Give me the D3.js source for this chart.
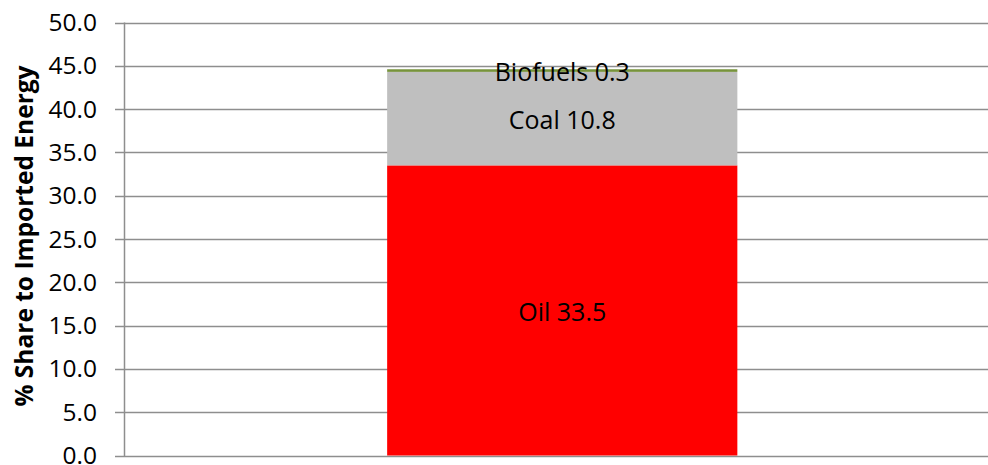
<!DOCTYPE html>
<html><head><meta charset="utf-8">
<script src="https://cdn.jsdelivr.net/npm/d3@7"></script>
<style>html,body{margin:0;padding:0;background:#fff;overflow:hidden}</style>
</head><body>
<svg id="c" width="988" height="465"></svg>
<script>
const categories = ["Imported Energy"];
const seriesNames = ["Oil", "Coal", "Biofuels"];
const oilValues = [33.5];
const coalValues = [10.8];
const biofuelValues = [0.3];
const seriesColors = ["#FF0000", "#BFBFBF", "#77933C"];
const yTicks = [0, 5, 10, 15, 20, 25, 30, 35, 40, 45, 50];
const yTitle = "% Share to Imported Energy";

(function () {
const svg = d3.select("#c");
const mLeft = 124.5, mRight = 1000, mTop = 22.5, mBottom = 455.5;
const font = "'Open Sans', 'Noto Sans', sans-serif";

const x = d3.scaleBand().domain(categories).range([mLeft, mRight]).paddingInner(0).paddingOuter(0.75);
const y = d3.scaleLinear().domain([0, 50]).range([mBottom, mTop]);

const rows = categories.map((c, i) => ({cat: c, Oil: oilValues[i], Coal: coalValues[i], Biofuels: biofuelValues[i]}));
const stack = d3.stack().keys(seriesNames)(rows);

// gridlines
svg.append("g").selectAll("line").data(yTicks).join("line")
  .attr("x1", 115).attr("x2", 988)
  .attr("y1", d => Math.round(y(d)) + 0.5).attr("y2", d => Math.round(y(d)) + 0.5)
  .attr("stroke", "#8e8e8e").attr("stroke-width", 1.5);

// bars
const layers = svg.append("g").selectAll("g").data(stack).join("g")
  .attr("fill", (d, i) => seriesColors[i]);
layers.selectAll("rect").data(d => d).join("rect")
  .attr("x", d => x(d.data.cat))
  .attr("width", x.bandwidth())
  .attr("y", d => y(d[1]))
  .attr("height", d => y(d[0]) - y(d[1]));

// y axis line
svg.append("line").attr("x1", mLeft).attr("x2", mLeft).attr("y1", mTop).attr("y2", mBottom + 1)
  .attr("stroke", "#8e8e8e").attr("stroke-width", 1.5);

// tick labels
svg.append("g").selectAll("text").data(yTicks).join("text")
  .attr("x", 97).attr("y", d => y(d))
  .attr("dy", "0.35em").attr("text-anchor", "end")
  .attr("font-family", font).attr("font-size", 24.5).attr("fill", "#000")
  .text(d => d.toFixed(1));

// data labels
stack.forEach((layer, i) => {
  layer.forEach(d => {
    svg.append("text")
      .attr("x", x(d.data.cat) + x.bandwidth() / 2)
      .attr("y", (y(d[0]) + y(d[1])) / 2 + 2)
      .attr("dy", "0.35em").attr("text-anchor", "middle")
      .attr("font-family", font).attr("font-size", 25).attr("fill", "#000")
      .text(seriesNames[i] + " " + (d[1] - d[0]).toFixed(1));
  });
});

// axis title
svg.append("text")
  .attr("transform", `translate(33, ${(62 + 410) / 2}) rotate(-90)`)
  .attr("text-anchor", "middle")
  .attr("font-family", font).attr("font-size", 24.5).attr("font-weight", "bold").attr("fill", "#000")
  .text(yTitle);
})();
</script>
</body></html>
